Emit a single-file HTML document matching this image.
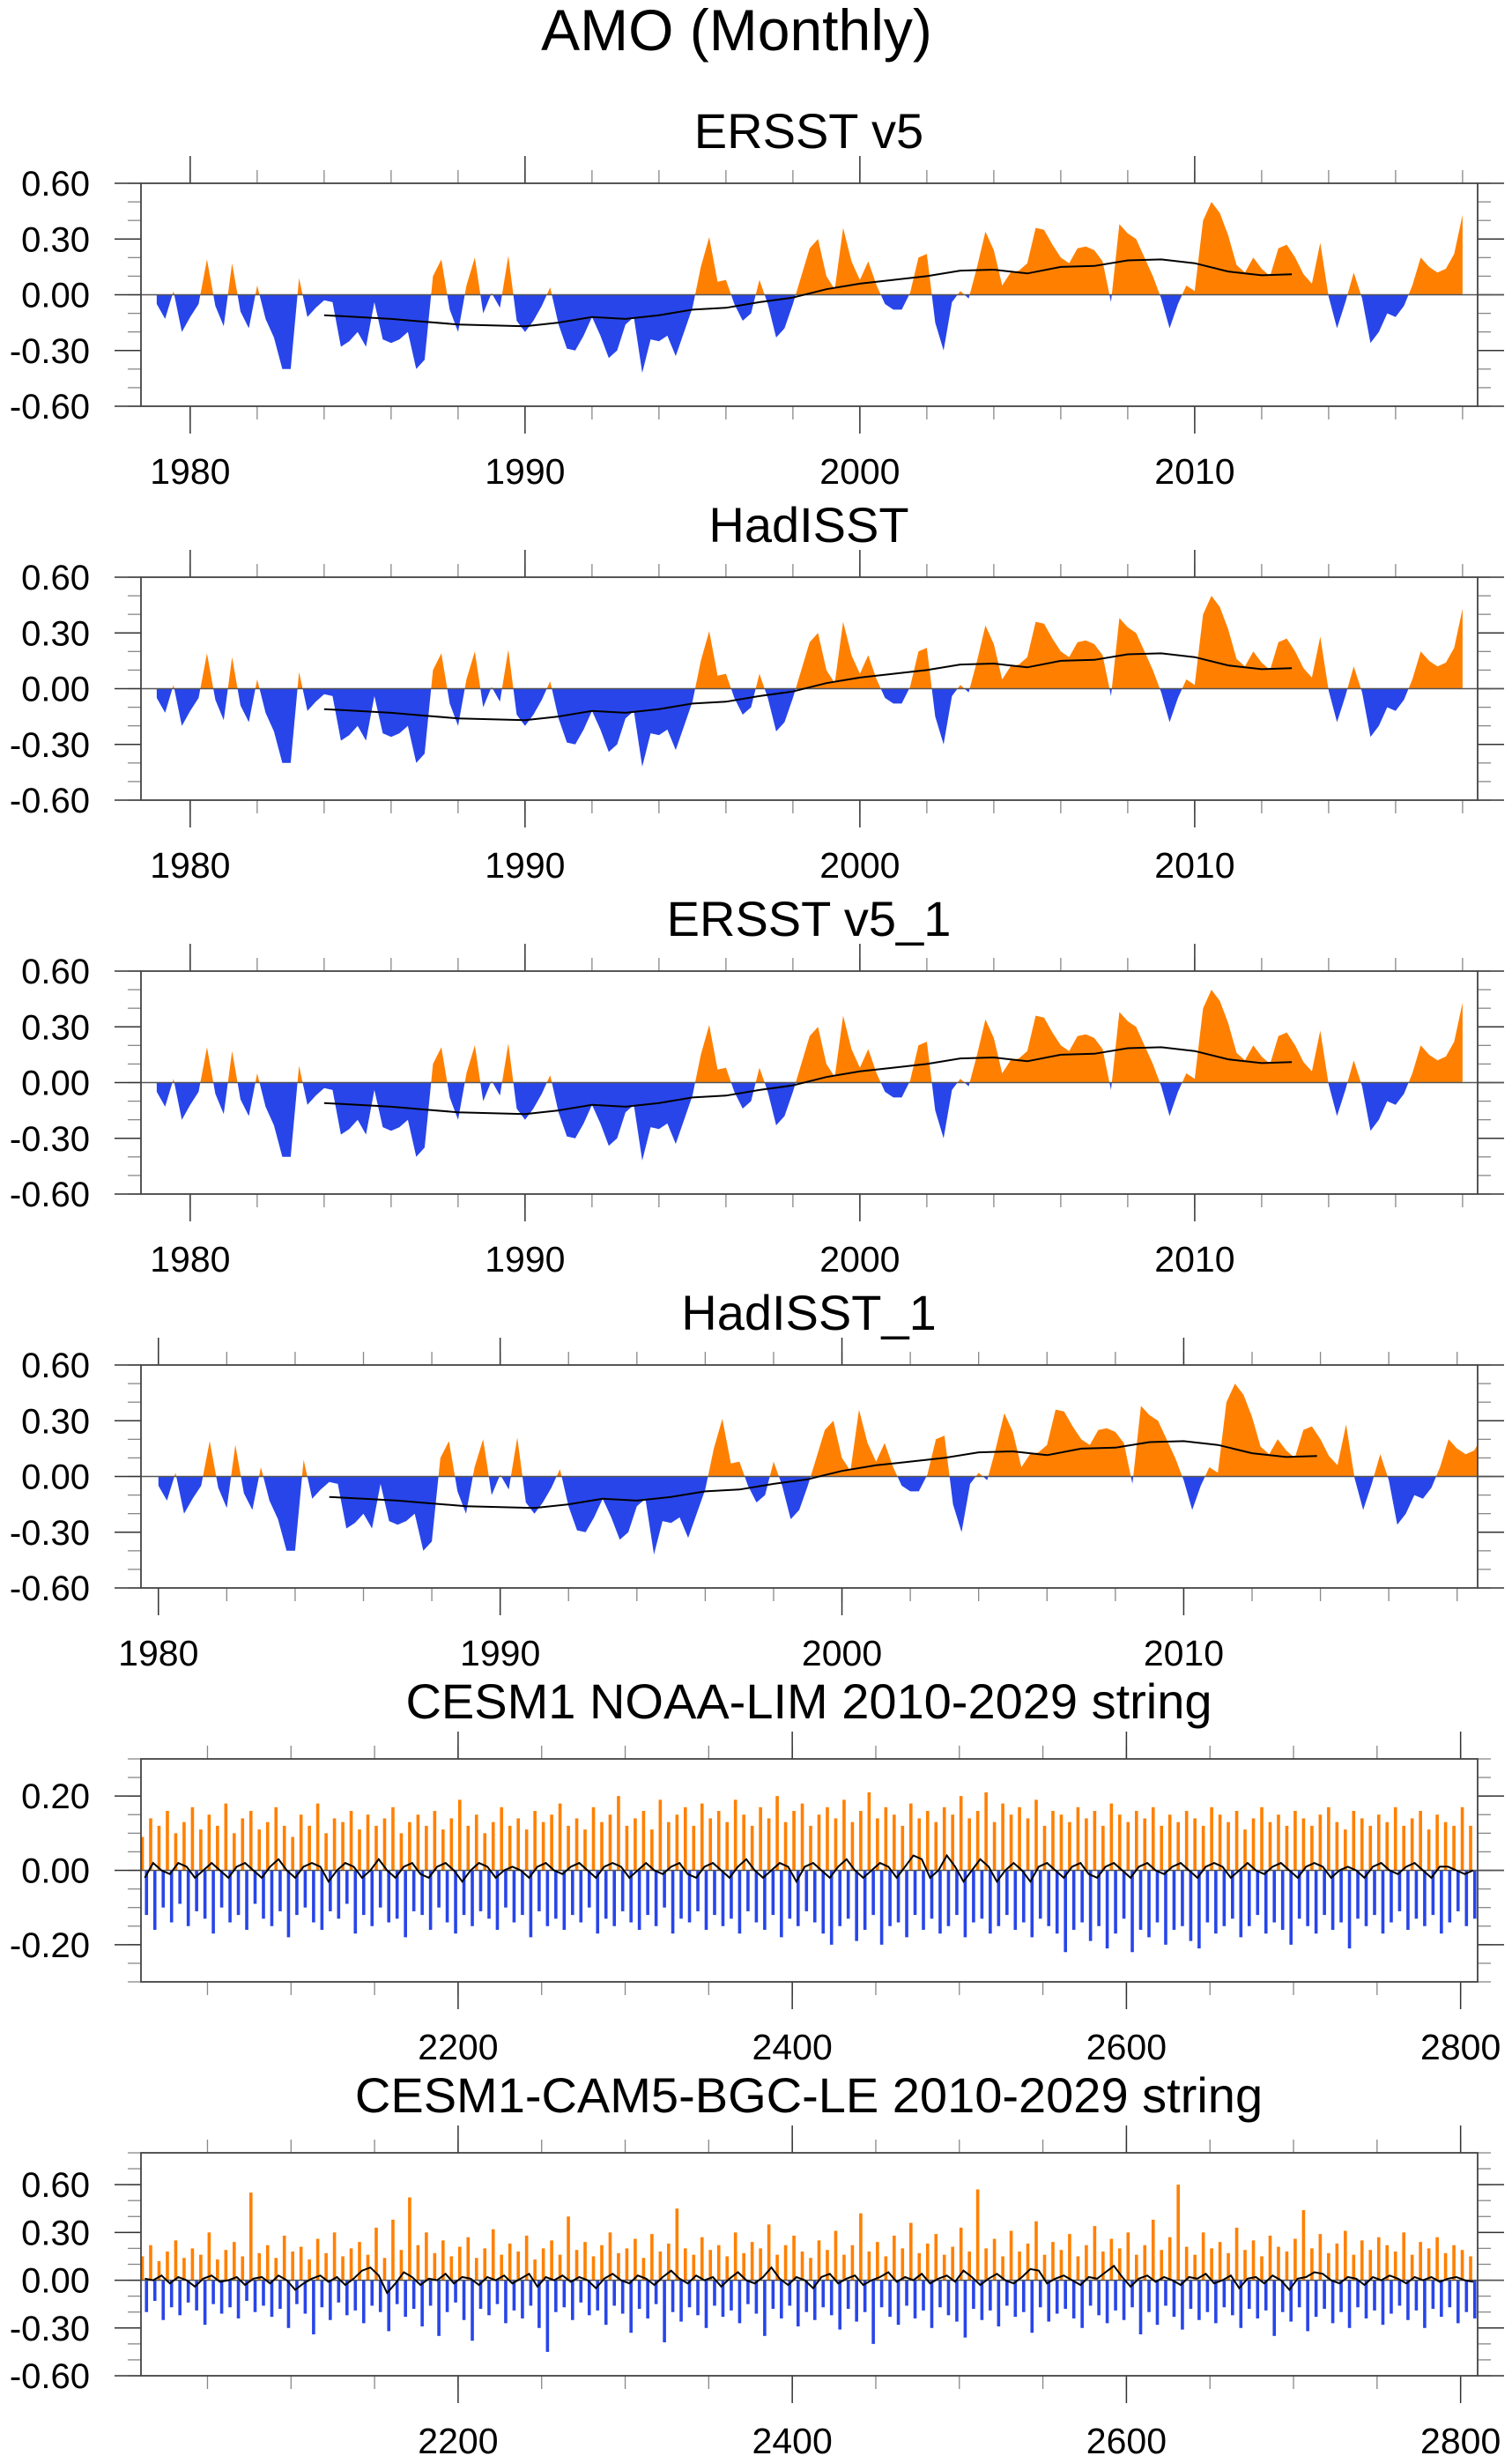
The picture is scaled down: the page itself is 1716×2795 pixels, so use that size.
<!DOCTYPE html>
<html><head><meta charset="utf-8"><title>AMO (Monthly)</title>
<style>
html,body{margin:0;padding:0;background:#fff;}
svg{display:block;font-family:"Liberation Sans",Arial,sans-serif;}
</style></head>
<body>
<svg id="chart" width="1716" height="2795" viewBox="0 0 1716 2795" xmlns="http://www.w3.org/2000/svg">
<text x="836" y="57" font-size="66" text-anchor="middle">AMO (Monthly)</text>
</svg>
<script>
const obsValues = [-0.05,-0.13,0.02,-0.2,-0.12,-0.05,0.19,-0.06,-0.17,0.17,
-0.09,-0.18,0.05,-0.13,-0.23,-0.4,-0.4,0.09,-0.12,-0.07,
-0.03,-0.04,-0.28,-0.25,-0.2,-0.28,-0.04,-0.24,-0.26,-0.24,
-0.2,-0.4,-0.35,0.1,0.19,-0.08,-0.2,0.05,0.2,-0.1,
0.01,-0.07,0.21,-0.14,-0.2,-0.14,-0.06,0.04,-0.16,-0.29,
-0.3,-0.22,-0.12,-0.22,-0.34,-0.3,-0.16,-0.12,-0.42,-0.24,
-0.25,-0.22,-0.33,-0.2,-0.07,0.15,0.31,0.07,0.08,-0.05,
-0.14,-0.1,0.08,-0.05,-0.23,-0.18,-0.05,0.1,0.25,0.3,
0.1,0.03,0.36,0.18,0.08,0.18,0.05,-0.05,-0.08,-0.08,
0.01,0.2,0.22,-0.15,-0.3,-0.04,0.02,-0.02,0.15,0.34,
0.24,0.05,0.12,0.13,0.17,0.36,0.35,0.27,0.2,0.17,
0.25,0.26,0.24,0.18,-0.04,0.38,0.33,0.3,0.2,0.1,
-0.02,-0.18,-0.05,0.05,0.02,0.4,0.5,0.44,0.32,0.16,
0.12,0.2,0.14,0.1,0.25,0.27,0.2,0.11,0.06,0.28,
-0.01,-0.18,-0.04,0.12,-0.02,-0.26,-0.2,-0.1,-0.12,-0.06,
0.05,0.2,0.15,0.12,0.14,0.22,0.43];
const obsSmoothYears = [1984,1985,1986,1987,1988,1989,1990,1991,1992,1993,1994,1995,1996,1997,1998,1999,2000,2001,2002,2003,2004,2005,2006,2007,2008,2009,2010,2011,2012,2012.9];
const obsSmooth = [-0.11,-0.12,-0.13,-0.145,-0.16,-0.165,-0.17,-0.15,-0.12,-0.13,-0.11,-0.08,-0.07,-0.04,-0.015,0.03,0.06,0.08,0.10,0.13,0.135,0.115,0.15,0.155,0.185,0.19,0.17,0.125,0.105,0.11];
const obsStart = 1979.0;
const obsStep = 0.25;
const obsShift4 = 1.0;

// ---- CESM1 NOAA-LIM string ----
const limPos = [0.09,0.14,0.12,0.16,0.1,0.13,0.17,0.11,0.15,0.12,
0.18,0.1,0.14,0.16,0.11,0.13,0.17,0.12,0.09,0.15,
0.12,0.18,0.1,0.14,0.13,0.16,0.11,0.15,0.12,0.14,
0.17,0.1,0.13,0.15,0.12,0.16,0.11,0.14,0.19,0.12,
0.15,0.1,0.13,0.17,0.12,0.14,0.11,0.16,0.13,0.15,
0.18,0.12,0.14,0.11,0.17,0.13,0.15,0.2,0.12,0.14,
0.16,0.11,0.19,0.13,0.15,0.17,0.12,0.18,0.14,0.16,
0.13,0.19,0.15,0.12,0.17,0.14,0.2,0.13,0.16,0.18,
0.12,0.15,0.17,0.14,0.19,0.13,0.16,0.21,0.14,0.17,
0.15,0.12,0.18,0.14,0.16,0.13,0.17,0.15,0.2,0.14,
0.16,0.21,0.13,0.18,0.15,0.17,0.14,0.19,0.12,0.16,
0.15,0.13,0.17,0.14,0.16,0.12,0.18,0.15,0.13,0.16,
0.14,0.17,0.12,0.15,0.13,0.16,0.14,0.12,0.17,0.15,
0.13,0.16,0.11,0.14,0.17,0.13,0.15,0.12,0.16,0.14,
0.12,0.15,0.17,0.13,0.11,0.16,0.14,0.12,0.15,0.13,
0.17,0.12,0.14,0.16,0.11,0.15,0.13,0.12,0.17,0.12];
const limNeg = [-0.12,-0.16,-0.1,-0.14,-0.09,-0.15,-0.11,-0.13,-0.17,-0.1,
-0.14,-0.12,-0.16,-0.09,-0.13,-0.15,-0.11,-0.18,-0.12,-0.1,
-0.14,-0.16,-0.11,-0.13,-0.09,-0.17,-0.12,-0.15,-0.1,-0.14,
-0.13,-0.18,-0.11,-0.12,-0.16,-0.1,-0.14,-0.17,-0.12,-0.15,
-0.11,-0.13,-0.16,-0.1,-0.14,-0.12,-0.18,-0.11,-0.15,-0.13,
-0.16,-0.12,-0.14,-0.1,-0.17,-0.13,-0.15,-0.11,-0.14,-0.16,
-0.12,-0.15,-0.1,-0.17,-0.13,-0.14,-0.11,-0.16,-0.12,-0.15,
-0.13,-0.17,-0.11,-0.14,-0.16,-0.12,-0.18,-0.13,-0.15,-0.11,
-0.14,-0.17,-0.2,-0.15,-0.13,-0.19,-0.16,-0.12,-0.2,-0.15,
-0.14,-0.18,-0.12,-0.16,-0.13,-0.17,-0.15,-0.12,-0.18,-0.14,
-0.13,-0.17,-0.15,-0.12,-0.16,-0.14,-0.18,-0.13,-0.15,-0.17,
-0.22,-0.16,-0.14,-0.19,-0.15,-0.21,-0.17,-0.13,-0.22,-0.16,
-0.18,-0.14,-0.2,-0.16,-0.15,-0.19,-0.21,-0.14,-0.17,-0.15,
-0.13,-0.18,-0.15,-0.12,-0.17,-0.14,-0.16,-0.2,-0.13,-0.15,
-0.17,-0.12,-0.16,-0.14,-0.21,-0.13,-0.15,-0.12,-0.17,-0.14,
-0.11,-0.16,-0.13,-0.15,-0.12,-0.17,-0.14,-0.11,-0.15,-0.13];
const limSmooth = [-0.02,0.02,0.0,-0.01,0.02,0.01,-0.02,0.0,0.02,0.0,
-0.02,0.01,0.02,0.0,-0.02,0.01,0.03,0.0,-0.02,0.01,
0.02,0.01,-0.03,0.0,0.02,0.01,-0.02,0.0,0.03,0.0,
-0.02,0.01,0.02,-0.01,-0.02,0.01,0.02,0.0,-0.03,0.0,
0.02,0.01,-0.02,0.0,0.01,0.0,-0.02,0.01,0.02,0.0,
-0.01,0.01,0.02,0.0,-0.02,0.01,0.02,0.01,-0.02,0.0,
0.02,0.0,-0.01,0.01,0.02,-0.01,-0.02,0.01,0.02,0.0,
-0.02,0.01,0.03,0.0,-0.02,0.0,0.02,0.01,-0.03,0.01,
0.02,0.0,-0.02,0.01,0.03,0.0,-0.02,0.0,0.02,0.01,
-0.02,0.01,0.04,0.03,-0.02,0.0,0.04,0.01,-0.03,0.0,
0.03,0.01,-0.03,0.0,0.02,0.0,-0.03,0.01,0.02,0.0,
-0.02,0.01,0.02,-0.01,-0.02,0.01,0.02,0.0,-0.02,0.01,
0.02,0.0,-0.01,0.01,0.02,0.0,-0.02,0.01,0.02,0.01,
-0.02,0.0,0.02,0.0,-0.01,0.01,0.02,0.0,-0.02,0.01,
0.02,0.01,-0.02,0.0,0.01,0.0,-0.02,0.01,0.02,0.0,
-0.01,0.01,0.02,0.0,-0.02,0.01,0.01,0.0,-0.01,0.0];

// ---- CESM1-CAM5-BGC-LE string ----
const lePos = [0.15,0.22,0.12,0.18,0.25,0.14,0.2,0.16,0.3,0.13,
0.19,0.24,0.15,0.55,0.17,0.22,0.14,0.28,0.18,0.21,
0.13,0.26,0.17,0.3,0.15,0.2,0.24,0.16,0.33,0.14,
0.38,0.19,0.52,0.22,0.3,0.17,0.25,0.15,0.21,0.27,
0.14,0.2,0.32,0.16,0.23,0.18,0.28,0.13,0.2,0.25,
0.16,0.4,0.19,0.24,0.15,0.22,0.3,0.17,0.2,0.26,
0.14,0.29,0.18,0.23,0.45,0.2,0.16,0.27,0.19,0.22,
0.15,0.3,0.17,0.24,0.2,0.35,0.16,0.22,0.28,0.18,
0.14,0.25,0.19,0.31,0.16,0.22,0.42,0.18,0.24,0.15,
0.28,0.2,0.36,0.17,0.23,0.29,0.16,0.21,0.33,0.18,
0.57,0.2,0.26,0.15,0.31,0.18,0.23,0.37,0.16,0.24,
0.19,0.29,0.15,0.22,0.34,0.18,0.26,0.2,0.3,0.16,
0.22,0.38,0.19,0.27,0.6,0.21,0.16,0.3,0.2,0.24,
0.17,0.33,0.19,0.25,0.15,0.28,0.21,0.18,0.26,0.44,
0.2,0.29,0.17,0.23,0.31,0.16,0.25,0.19,0.27,0.22,
0.18,0.3,0.16,0.24,0.2,0.27,0.17,0.22,0.19,0.15];
const leNeg = [-0.2,-0.13,-0.25,-0.17,-0.22,-0.14,-0.19,-0.28,-0.15,-0.21,
-0.17,-0.24,-0.13,-0.2,-0.16,-0.23,-0.18,-0.3,-0.15,-0.21,
-0.34,-0.17,-0.25,-0.14,-0.22,-0.19,-0.27,-0.16,-0.2,-0.32,
-0.15,-0.23,-0.18,-0.29,-0.16,-0.35,-0.2,-0.14,-0.25,-0.38,
-0.18,-0.22,-0.15,-0.27,-0.19,-0.24,-0.16,-0.3,-0.45,-0.2,
-0.17,-0.25,-0.14,-0.22,-0.19,-0.28,-0.16,-0.21,-0.33,-0.18,
-0.24,-0.15,-0.39,-0.2,-0.26,-0.17,-0.22,-0.3,-0.16,-0.23,
-0.19,-0.27,-0.15,-0.21,-0.35,-0.18,-0.24,-0.16,-0.29,-0.2,
-0.25,-0.17,-0.22,-0.31,-0.18,-0.26,-0.2,-0.4,-0.17,-0.23,
-0.28,-0.16,-0.24,-0.19,-0.3,-0.17,-0.22,-0.26,-0.36,-0.18,
-0.25,-0.19,-0.29,-0.16,-0.23,-0.2,-0.33,-0.17,-0.26,-0.21,
-0.18,-0.24,-0.3,-0.16,-0.22,-0.27,-0.19,-0.25,-0.17,-0.34,
-0.2,-0.28,-0.16,-0.23,-0.31,-0.18,-0.25,-0.2,-0.27,-0.17,
-0.22,-0.3,-0.18,-0.24,-0.19,-0.35,-0.2,-0.26,-0.17,-0.32,
-0.23,-0.18,-0.27,-0.2,-0.3,-0.17,-0.24,-0.19,-0.28,-0.21,
-0.16,-0.25,-0.19,-0.3,-0.18,-0.23,-0.17,-0.27,-0.2,-0.24];
const leSmooth = [0.01,0.0,0.03,-0.02,0.02,0.0,-0.04,0.01,0.03,-0.01,
0.0,0.02,-0.03,0.01,0.02,-0.02,0.03,0.0,-0.06,-0.02,
0.01,0.03,-0.01,0.02,-0.03,0.01,0.06,0.08,0.03,-0.08,
-0.02,0.05,0.02,-0.03,0.01,0.0,0.04,-0.02,0.02,0.01,
-0.03,0.02,0.0,0.03,-0.02,0.01,0.04,-0.04,0.02,0.0,
0.03,-0.01,0.02,0.0,-0.05,0.01,0.04,0.0,-0.02,0.03,
0.01,-0.03,0.02,0.06,0.01,-0.02,0.03,0.0,0.02,-0.04,
0.01,0.05,0.0,-0.02,0.02,0.08,0.01,-0.03,0.02,0.0,
-0.05,0.02,0.04,-0.02,0.01,0.03,-0.03,0.0,0.02,0.05,
-0.01,0.02,0.0,0.04,-0.02,0.01,0.03,-0.01,0.06,0.02,
-0.03,0.01,0.04,0.0,-0.02,0.02,0.07,0.06,-0.02,0.01,
0.03,0.0,-0.03,0.02,0.01,0.05,0.09,0.02,-0.04,0.01,
0.03,-0.01,0.02,0.0,-0.03,0.02,0.01,0.04,-0.02,0.0,
0.03,-0.05,0.01,0.02,-0.02,0.03,0.0,-0.06,0.01,0.02,
0.05,0.04,0.0,-0.02,0.02,0.01,-0.03,0.02,0.0,0.03,
0.01,-0.02,0.02,0.0,0.02,-0.01,0.01,0.02,0.0,-0.01];
const stringStart = 2011;
const stringStep = 5;

const ORANGE = '#FF8000', BLUE = '#2845EA';
const NS = 'http://www.w3.org/2000/svg';
const svg = document.getElementById('chart');
function mk(tag, attrs, parent){
  const e = document.createElementNS(NS, tag);
  for (const k in attrs) e.setAttribute(k, attrs[k]);
  (parent||svg).appendChild(e);
  return e;
}
const LEFT = 160, RIGHT = 1677, H = 253;

function axes(p){
  const g = mk('g', {});
  
  
  const top = p.top, bot = p.top + H;
  const xs = v => LEFT + (v - p.xmin) * (RIGHT - LEFT) / (p.xmax - p.xmin);
  const ys = v => top + (p.ymax - v) * H / (p.ymax - p.ymin);
  const t = mk('text', {x: 918, y: top - p.titleOff, 'font-size': 56, 'text-anchor': 'middle'}, g);
  
  
  t.textContent = p.title;
  for (let v = p.xMinorStart; v <= p.xmax; v += p.xMinor) {
    const x = xs(v);
    mk('line', {x1: x, x2: x, y1: top - 15, y2: top, stroke: '#888', 'stroke-width': 1.3}, g);
    mk('line', {x1: x, x2: x, y1: bot, y2: bot + 15, stroke: '#888', 'stroke-width': 1.3}, g);
  }
  for (const v of p.xMajors) {
    const x = xs(v);
    mk('line', {x1: x, x2: x, y1: top - 31, y2: top, stroke: '#333', 'stroke-width': 1.5}, g);
    mk('line', {x1: x, x2: x, y1: bot, y2: bot + 31, stroke: '#333', 'stroke-width': 1.5}, g);
    const tl = mk('text', {x: x, y: bot + 88, 'font-size': 41, 'text-anchor': 'middle'}, g);
    
    
    tl.textContent = String(v);
  }
  for (let i = 0; ; i++) {
    const v = p.ymin + i * p.yMinor;
    if (v > p.ymax + 1e-6) break;
    const y = ys(v);
    mk('line', {x1: LEFT - 15, x2: LEFT, y1: y, y2: y, stroke: '#888', 'stroke-width': 1.3}, g);
    mk('line', {x1: RIGHT, x2: RIGHT + 15, y1: y, y2: y, stroke: '#888', 'stroke-width': 1.3}, g);
  }
  p.yLabels.forEach((lab, i) => {
    const v = p.yTicks[i], y = ys(v);
    mk('line', {x1: LEFT - 30, x2: LEFT, y1: y, y2: y, stroke: '#333', 'stroke-width': 1.5}, g);
    mk('line', {x1: RIGHT, x2: RIGHT + 30, y1: y, y2: y, stroke: '#333', 'stroke-width': 1.5}, g);
    const tl = mk('text', {x: 102, y: y + 14, 'font-size': 40, 'text-anchor': 'end'}, g);
    
    
    tl.textContent = lab;
  });
  return {g, xs, ys, top, bot};
}
function frame(a, name){
  const y0 = a.ys(0);
  const z = mk('line', {x1: LEFT, x2: RIGHT + 30, y1: y0, y2: y0, stroke: '#555', 'stroke-width': 1.5}, a.g);
  
  
  const r = mk('rect', {x: LEFT, y: a.top, width: RIGHT - LEFT, height: H, fill: 'none', stroke: '#444', 'stroke-width': 1.8}, a.g);
  
  
}
function obsPanel(p, start){
  const a = axes(p);
  const y0 = a.ys(0);
  let d = 'M' + a.xs(start) + ',' + y0;
  obsValues.forEach((v, k) => { d += ' L' + a.xs(start + k * obsStep).toFixed(1) + ',' + a.ys(v).toFixed(1); });
  d += ' L' + a.xs(start + (obsValues.length - 1) * obsStep).toFixed(1) + ',' + y0 + ' Z';
  const cid = p.name + '-clip';
  const defs = mk('defs', {}, a.g);
  const c1 = mk('clipPath', {id: cid + '-pos'}, defs);
  mk('rect', {x: LEFT, y: a.top, width: RIGHT - LEFT, height: y0 - a.top}, c1);
  const c2 = mk('clipPath', {id: cid + '-neg'}, defs);
  mk('rect', {x: LEFT, y: y0, width: RIGHT - LEFT, height: a.bot - y0}, c2);
  const pa = mk('path', {d: d, fill: ORANGE, 'clip-path': 'url(#' + cid + '-pos)'}, a.g);
  
  
  const na = mk('path', {d: d, fill: BLUE, 'clip-path': 'url(#' + cid + '-neg)'}, a.g);
  
  
  frame(a, p.name);
  const pts = obsSmooth.map((v, i) => a.xs(obsSmoothYears[i] + start - obsStart).toFixed(1) + ',' + a.ys(v).toFixed(1)).join(' ');
  const sl = mk('polyline', {points: pts, fill: 'none', stroke: '#000', 'stroke-width': 2}, a.g);
  
  
}
function stringPanel(p, pos, neg, sm){
  const a = axes(p);
  const y0 = a.ys(0);
  pos.forEach((v, i) => {
    const x = a.xs(stringStart + i * stringStep);
    const b = mk('rect', {x: x - 1.8, y: a.ys(v), width: 3.6, height: y0 - a.ys(v), fill: ORANGE}, a.g);
    
    
  });
  neg.forEach((v, i) => {
    const x = a.xs(stringStart + i * stringStep + 2.5);
    const b = mk('rect', {x: x - 1.8, y: y0, width: 3.6, height: a.ys(v) - y0, fill: BLUE}, a.g);
    
    
  });
  frame(a, p.name);
  const pts = sm.map((v, i) => a.xs(stringStart + 1.5 + i * stringStep).toFixed(1) + ',' + a.ys(v).toFixed(1)).join(' ');
  const sl = mk('polyline', {points: pts, fill: 'none', stroke: '#000', 'stroke-width': 2}, a.g);
  
  
}
const obsY = {ymin: -0.6, ymax: 0.6, yMinor: 0.1, yTicks: [0.6, 0.3, 0, -0.3, -0.6], yLabels: ['0.60','0.30','0.00','-0.30','-0.60']};
const ax13 = {xmin: 1978.53, xmax: 2018.45, xMajors: [1980,1990,2000,2010], xMinor: 2, xMinorStart: 1980, titleOff: 40};
obsPanel(Object.assign({name: 'ersst-v5', title: 'ERSST v5', top: 208}, ax13, obsY), obsStart);
obsPanel(Object.assign({name: 'hadisst', title: 'HadISST', top: 655}, ax13, obsY), obsStart);
obsPanel(Object.assign({name: 'ersst-v5-1', title: 'ERSST v5_1', top: 1102}, ax13, obsY), obsStart);
obsPanel(Object.assign({name: 'hadisst-1', title: 'HadISST_1', top: 1549, xmin: 1979.49, xmax: 2018.6, xMajors: [1980,1990,2000,2010], xMinor: 2, xMinorStart: 1980, titleOff: 40}, obsY), obsStart + obsShift4);
const strX = {xmin: 2010.2, xmax: 2810.2, xMajors: [2200,2400,2600,2800], xMinor: 50, xMinorStart: 2050, titleOff: 46};
stringPanel(Object.assign({name: 'cesm1-noaa-lim', title: 'CESM1 NOAA-LIM 2010-2029 string', top: 1996, ymin: -0.3, ymax: 0.3, yMinor: 0.05, yTicks: [0.2, 0, -0.2], yLabels: ['0.20','0.00','-0.20']}, strX), limPos, limNeg, limSmooth);
stringPanel(Object.assign({name: 'cesm1-cam5-bgc-le', title: 'CESM1-CAM5-BGC-LE 2010-2029 string', top: 2443, ymin: -0.6, ymax: 0.8, yMinor: 0.1, yTicks: [0.6, 0.3, 0, -0.3, -0.6], yLabels: ['0.60','0.30','0.00','-0.30','-0.60']}, strX), lePos, leNeg, leSmooth);
</script>
</body></html>
